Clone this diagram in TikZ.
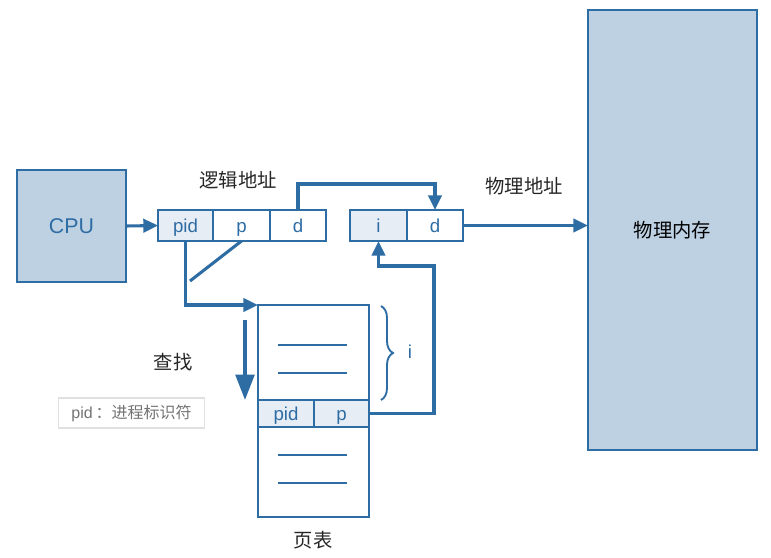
\documentclass[tikz,border=0pt]{standalone}
\usepackage{fontspec}
\setmainfont{Liberation Sans}
\newfontfamily\cjk{Noto Sans CJK SC}
\usetikzlibrary{arrows.meta,decorations.pathreplacing}
\definecolor{linec}{RGB}{46,108,164}
\definecolor{memfill}{RGB}{189,209,227}
\definecolor{cellfill}{RGB}{231,237,245}
\tikzset{>={Triangle[length=11pt,width=10pt]}}
\tikzset{
  cell/.style={draw=linec, line width=1.5pt, minimum height=23.25pt, inner sep=0pt, outer sep=0pt, text=linec, text height=12pt, text depth=1pt, font=\fontsize{14}{16}\selectfont},
  bigbox/.style={draw=linec, line width=1.5pt, fill=memfill, inner sep=0pt, outer sep=0pt},
  arr/.style={->, draw=linec, line width=2.3pt},
  lbl/.style={font=\cjk\fontsize{14.5}{17}\selectfont, text=black!85},
}

\begin{document}
\begin{tikzpicture}[x=0.75pt,y=-0.75pt]
  \useasboundingbox (0,0) rectangle (771,557);
  % cpu and memory
  \node (CPU) at (71.5,226) [bigbox, minimum width=81.75pt, minimum height=84pt, text=linec, font=\fontsize{16}{19}\selectfont] {CPU};
  \node (mem) at (672.5,230) [bigbox, minimum width=126.75pt, minimum height=330pt, font=\cjk\fontsize{14.5}{17}\selectfont] {物理内存};
  % logical address
  \node (lpid) at (185.5,225.5) [cell, fill=cellfill, minimum width=41.25pt] {pid};
  \node (lp) at (241.5,225.5) [cell, minimum width=42.75pt] {p};
  \node (ld) at (298,225.5) [cell, minimum width=42pt] {d};
  \node (llbl) at (238,180) [lbl] {逻辑地址};
  % physical address
  \node (pi) at (378.5,225.5) [cell, fill=cellfill, minimum width=42.75pt] {i};
  \node (pd) at (435,225.5) [cell, minimum width=42pt] {d};
  \node (plbl) at (524,186) [lbl] {物理地址};
  % page table
  \node (pt) at (313.5,411) [draw=linec, line width=1.5pt, minimum width=83.25pt, minimum height=159pt, inner sep=0pt, outer sep=0pt] {};
  \node (tpid) at (286,413.5) [cell, fill=cellfill, minimum width=42pt, minimum height=20.25pt] {pid};
  \node (tp) at (341.5,413.5) [cell, fill=cellfill, minimum width=41.25pt, minimum height=20.25pt] {p};
  \foreach \y in {345,373,455,483}
    \draw[linec, line width=1.1pt] (278,\y) -- (347,\y);
  \node (tlbl) at (313,540) [lbl] {页表};
  \draw[linec, line width=1.4pt, decorate, decoration={brace, amplitude=9pt}] (381,306) -- (381,400);
  \node (ilbl) at (410,352) [text=linec, font=\fontsize{14}{16}\selectfont] {i};
  % search
  \coordinate (s0) at (245,320);
  \coordinate (s1) at (245,400);
  \draw[-{Triangle[length=19pt,width=14pt]}, linec, line width=2.6pt] (s0) -- (s1);
  \node (find) at (173,362) [lbl] {查找};
  \node (note) at (131.5,413) [draw=black!12, line width=0.8pt, minimum width=110pt, minimum height=22.5pt, text=black!55, font=\fontsize{12}{14}\selectfont] {pid{\cjk\,：进程标识符}};
  % connectors
  \coordinate (join) at (190,281);
  \draw[arr] (CPU.east) -- (lpid.west);
  \draw[arr] (lpid.south) |- (pt.north west);
  \draw[linec, line width=2.3pt] (lp.south) -- (join);
  \draw[arr] (ld.north) -- ++(0,-26) -| (pd.north);
  \draw[arr] (pd.east) -- (pd.east -| mem.west);
  \draw[arr] (tp.east) -| (434,266) -| (pi.south);
\end{tikzpicture}
\end{document}
